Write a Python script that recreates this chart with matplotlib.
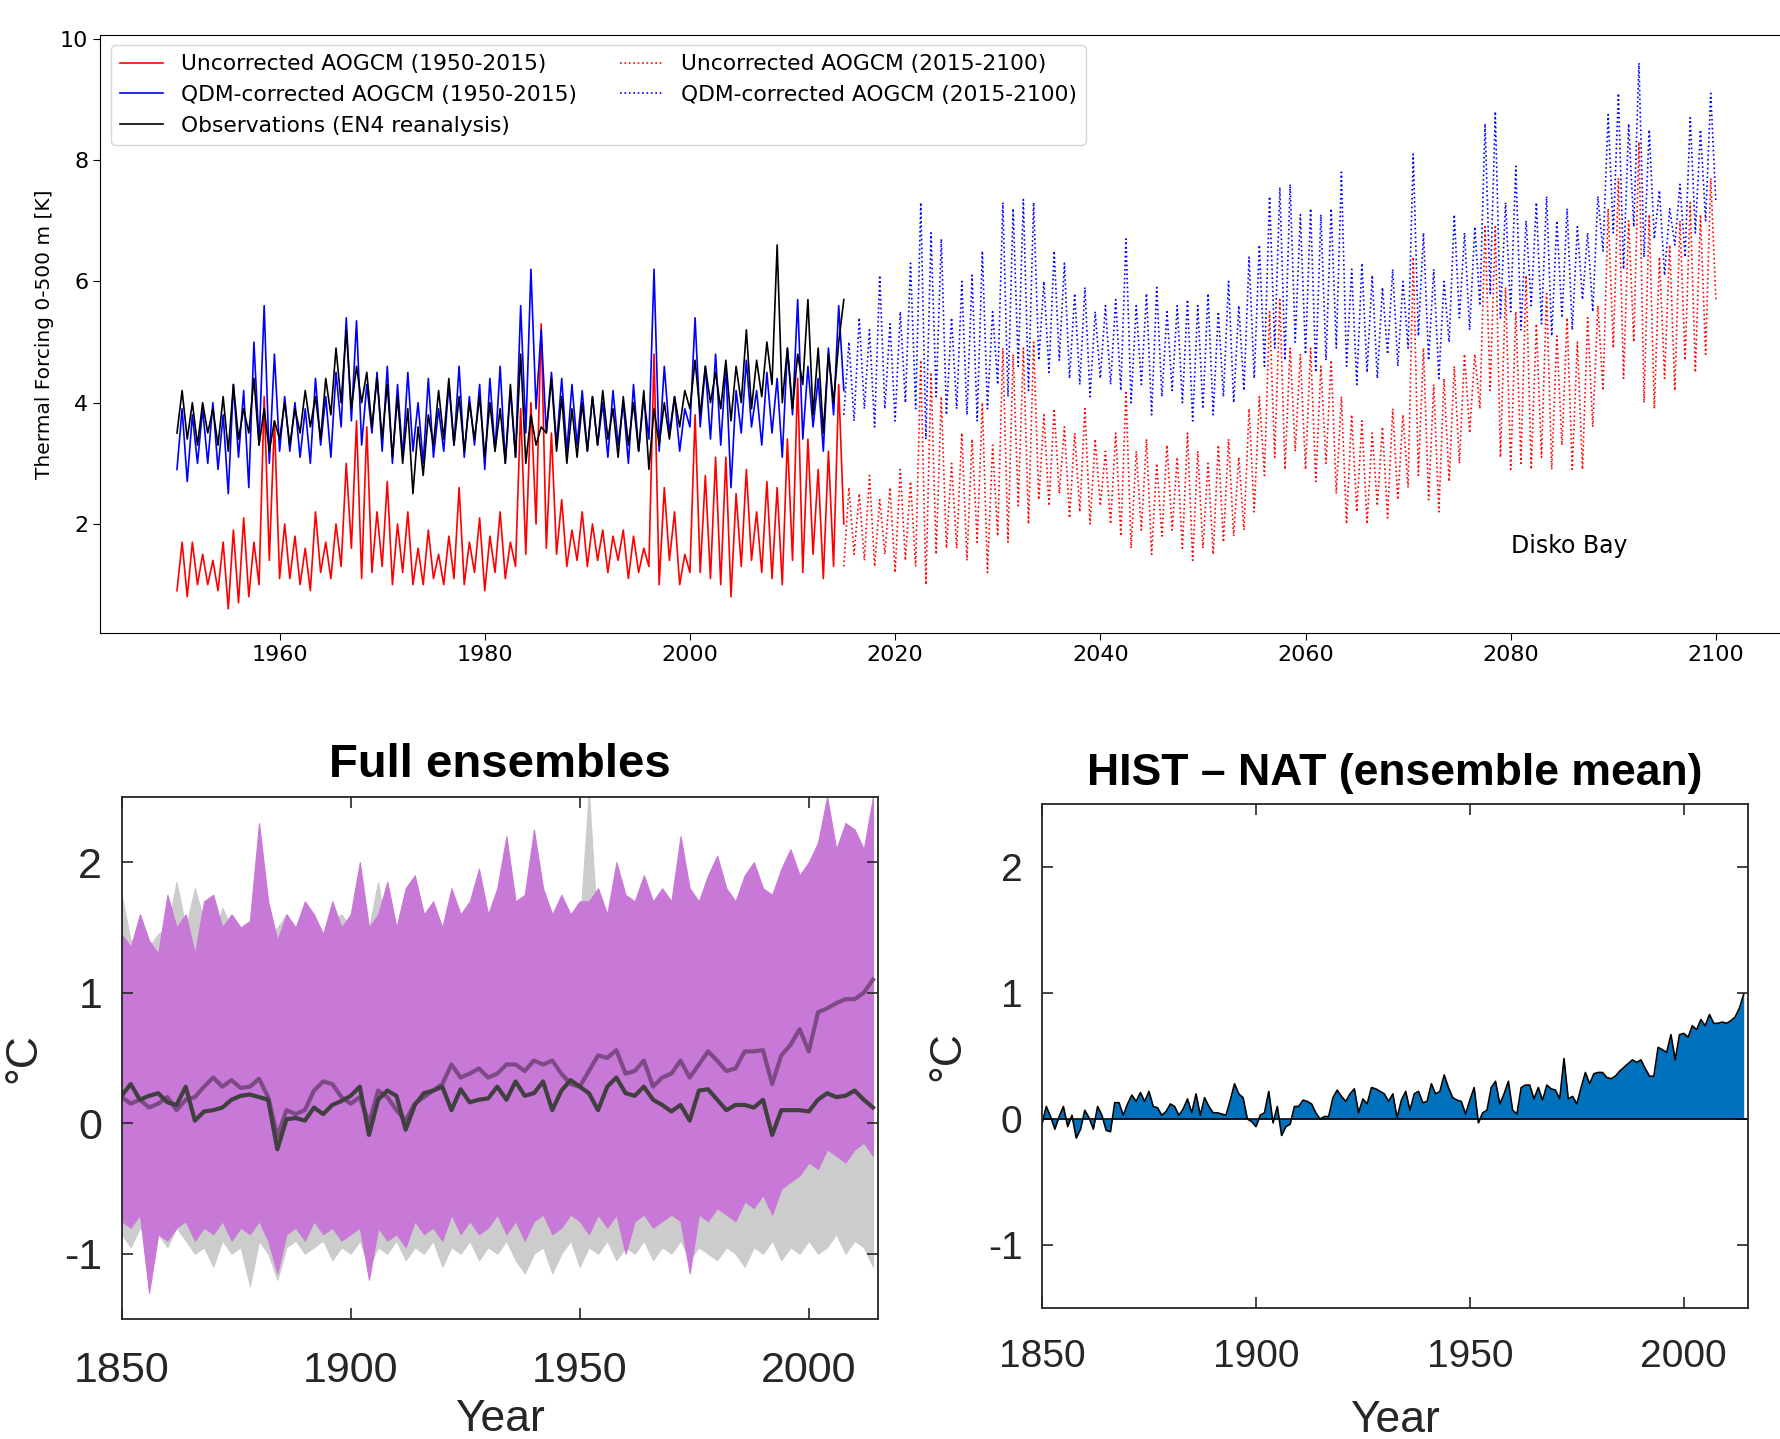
import matplotlib
matplotlib.use("Agg")
import matplotlib.pyplot as plt
import numpy as np

# ---------------- top panel: thermal forcing, Disko Bay ----------------
hist_t = np.arange(1950, 2015.01, 0.5)
fut_t = np.arange(2015, 2100.01, 0.5)

red_hist = [0.9, 1.7, 0.8, 1.7, 1.0, 1.5, 1.0, 1.4, 0.9, 1.7, 0.6, 1.9, 0.7, 2.1, 0.8, 1.7, 1.0, 4.1, 1.4, 3.7,
            1.1, 2.0, 1.1, 1.8, 1.0, 1.6, 0.9, 2.2, 1.2, 1.7, 1.1, 2.0, 1.3, 3.0, 1.6, 3.7, 1.1, 3.6, 1.2, 2.2,
            1.3, 2.7, 1.0, 2.0, 1.2, 2.2, 1.0, 1.6, 1.0, 1.9, 1.1, 1.5, 1.0, 1.8, 1.1, 2.6, 1.0, 1.7, 1.2, 2.1,
            0.9, 1.8, 1.2, 2.2, 1.1, 1.7, 1.3, 3.9, 1.5, 4.0, 2.0, 5.3, 1.6, 3.5, 1.5, 2.4, 1.3, 1.9, 1.4, 2.2,
            1.3, 2.0, 1.4, 1.9, 1.2, 1.8, 1.4, 1.9, 1.1, 1.8, 1.2, 1.6, 1.3, 4.8, 1.0, 2.6, 1.4, 2.2, 1.0, 1.5,
            1.2, 3.8, 1.2, 2.8, 1.1, 3.1, 1.0, 3.1, 0.8, 2.5, 1.3, 2.9, 1.4, 2.2, 1.2, 2.7, 1.1, 2.6, 1.0, 3.4,
            1.4, 4.4, 1.2, 3.4, 1.5, 2.9, 1.1, 3.2, 1.3, 4.3, 2.0]
blue_hist = [2.9, 3.9, 2.7, 3.8, 3.0, 3.9, 3.0, 4.0, 2.9, 3.8, 2.5, 4.3, 3.1, 4.2, 2.6, 5.0, 3.3, 5.6, 3.0, 4.8,
             3.2, 4.1, 3.2, 4.0, 3.1, 3.9, 3.0, 4.4, 3.3, 4.1, 3.1, 4.5, 3.6, 5.4, 3.7, 5.35, 3.3, 4.3, 3.5, 4.5,
             3.2, 4.6, 3.0, 4.3, 3.1, 4.5, 3.2, 4.0, 3.0, 4.4, 3.1, 3.9, 3.2, 4.3, 3.3, 4.6, 3.1, 4.1, 3.3, 4.3,
             2.9, 4.4, 3.2, 4.6, 3.0, 4.2, 3.1, 5.6, 3.5, 6.2, 3.9, 5.2, 3.5, 4.5, 3.3, 4.4, 3.2, 4.3, 3.3, 4.2,
             3.2, 4.1, 3.3, 4.0, 3.1, 4.2, 3.3, 4.0, 3.0, 4.3, 3.2, 4.1, 3.4, 6.2, 3.2, 4.6, 3.5, 4.1, 3.2, 3.9,
             3.6, 5.4, 3.6, 4.6, 3.4, 4.8, 3.3, 4.6, 2.6, 4.2, 3.5, 4.7, 3.6, 4.2, 3.3, 4.5, 3.5, 4.4, 3.1, 4.9,
             3.8, 5.7, 3.4, 4.6, 3.6, 4.4, 3.2, 4.9, 3.8, 5.6, 4.2]
obs_hist = [3.5, 4.2, 3.4, 4.0, 3.3, 4.0, 3.5, 3.9, 3.3, 4.1, 3.2, 4.3, 3.4, 3.9, 3.5, 4.4, 3.3, 3.9, 3.2, 3.7,
            3.4, 4.0, 3.3, 3.9, 3.5, 4.2, 3.6, 4.1, 3.4, 4.4, 3.8, 4.9, 4.0, 5.2, 3.9, 4.6, 4.0, 4.5, 3.6, 4.4,
            3.4, 4.3, 3.1, 4.1, 3.0, 3.9, 2.5, 3.6, 2.8, 3.8, 3.3, 4.2, 3.4, 4.4, 3.3, 4.1, 3.2, 4.0, 3.4, 4.1,
            3.1, 4.0, 3.2, 3.9, 3.0, 4.3, 3.1, 4.8, 3.0, 3.8, 3.3, 3.6, 3.5, 4.4, 3.2, 4.1, 3.0, 3.9, 3.1, 4.0,
            3.2, 4.1, 3.3, 4.2, 3.4, 3.9, 3.1, 4.1, 3.3, 4.0, 3.2, 4.2, 2.9, 3.9, 3.3, 4.0, 3.4, 4.1, 3.6, 4.2,
            3.9, 4.7, 3.8, 4.6, 4.0, 4.5, 3.9, 4.7, 3.7, 4.6, 4.0, 5.2, 3.9, 4.7, 4.1, 5.0, 4.3, 6.6, 4.0, 4.9,
            3.9, 4.8, 4.3, 5.7, 3.8, 4.9, 3.5, 4.8, 4.0, 5.0, 5.7]
red_fut = [1.3, 2.6, 1.5, 2.5, 1.4, 2.8, 1.3, 2.4, 1.5, 2.6, 1.2, 2.9, 1.4, 2.7, 1.3, 4.7, 1.0, 4.5, 1.5, 4.1,
           1.6, 3.0, 1.6, 3.5, 1.4, 3.4, 1.7, 4.0, 1.2, 3.3, 1.8, 4.9, 1.7, 4.8, 2.3, 4.9, 2.0, 5.0, 2.4, 3.8,
           2.3, 3.9, 2.5, 3.6, 2.1, 3.5, 2.2, 3.9, 2.0, 3.4, 2.3, 3.2, 2.0, 3.5, 1.8, 4.2, 1.6, 3.2, 1.9, 3.4,
           1.5, 3.0, 1.8, 3.3, 1.9, 3.1, 1.6, 3.5, 1.4, 3.2, 1.6, 3.0, 1.5, 3.3, 1.7, 3.4, 1.8, 3.1, 1.9, 3.9,
           2.2, 4.1, 2.8, 5.5, 3.1, 5.7, 2.9, 4.9, 3.2, 4.8, 2.9, 4.9, 2.7, 4.6, 3.0, 4.7, 2.5, 4.1, 2.0, 3.8,
           2.2, 3.7, 2.0, 3.5, 2.3, 3.6, 2.1, 3.9, 2.4, 3.8, 2.6, 6.4, 2.8, 4.9, 2.4, 4.3, 2.2, 4.4, 2.7, 4.6,
           3.0, 4.8, 3.5, 4.8, 3.9, 6.9, 4.2, 6.9, 3.1, 5.9, 2.9, 5.5, 3.0, 6.1, 2.9, 5.3, 3.1, 5.8, 2.9, 5.1,
           3.3, 5.4, 2.9, 5.0, 2.9, 5.4, 3.6, 5.6, 4.2, 7.2, 4.9, 7.7, 4.4, 7.0, 5.0, 8.3, 4.0, 7.1, 3.9, 6.4,
           4.4, 6.6, 4.2, 7.0, 4.7, 7.3, 4.5, 7.1, 4.8, 7.7, 5.7]
blue_fut = [3.8, 5.0, 3.7, 5.4, 3.9, 5.2, 3.6, 6.1, 3.9, 5.3, 3.7, 5.5, 4.0, 6.3, 3.9, 7.3, 3.4, 6.8, 4.1, 6.7,
            3.8, 5.4, 3.9, 6.0, 3.8, 6.1, 3.7, 6.5, 3.9, 5.5, 4.3, 7.3, 4.1, 7.2, 4.6, 7.35, 4.2, 7.3, 4.7, 6.0,
            4.5, 6.5, 4.7, 6.3, 4.4, 5.8, 4.3, 5.9, 4.1, 5.5, 4.4, 5.6, 4.3, 5.7, 4.2, 6.7, 4.0, 5.6, 4.3, 5.8,
            3.8, 5.9, 4.1, 5.5, 4.2, 5.6, 4.0, 5.7, 3.7, 5.6, 3.9, 5.8, 3.8, 5.5, 4.1, 6.0, 4.0, 5.6, 4.2, 6.4,
            4.4, 6.6, 4.6, 7.4, 4.9, 7.55, 4.7, 7.6, 5.0, 7.1, 4.8, 7.2, 4.5, 7.1, 4.7, 7.2, 4.9, 7.8, 4.6, 6.2,
            4.3, 6.3, 4.5, 6.1, 4.4, 5.9, 4.8, 6.2, 4.6, 6.0, 4.9, 8.1, 5.1, 6.8, 4.7, 6.2, 4.4, 6.0, 5.0, 7.1,
            5.4, 6.8, 5.2, 6.9, 5.6, 8.6, 5.8, 8.8, 5.4, 7.3, 5.5, 7.9, 5.2, 7.0, 5.6, 7.3, 5.3, 7.4, 5.1, 7.0,
            5.4, 7.2, 5.2, 6.9, 5.7, 6.8, 5.5, 7.4, 6.5, 8.75, 6.8, 9.1, 6.2, 8.6, 6.9, 9.6, 6.4, 8.5, 6.7, 7.5,
            6.1, 7.2, 6.6, 7.6, 6.4, 8.7, 6.8, 8.5, 7.0, 9.1, 7.3]

# ---------------- bottom panels: ensembles (two-yearly) ----------------
ens_t = np.arange(1850, 2015, 2)
hist_max = [1.45, 1.35, 1.6, 1.4, 1.3, 1.75, 1.5, 1.6, 1.3, 1.7, 1.75, 1.5, 1.6, 1.5, 1.55, 2.3, 1.7, 1.4, 1.6, 1.5,
            1.7, 1.6, 1.45, 1.7, 1.5, 1.6, 2.0, 1.5, 1.6, 1.85, 1.5, 1.8, 1.9, 1.6, 1.7, 1.5, 1.8, 1.6, 1.7, 1.95,
            1.6, 1.8, 2.2, 1.7, 1.75, 2.25, 1.8, 1.6, 1.75, 1.6, 1.7, 1.7, 1.8, 1.6, 2.0, 1.75, 1.7, 1.9, 1.7, 1.8,
            1.7, 2.2, 1.8, 1.7, 1.9, 2.05, 1.8, 1.7, 1.9, 2.0, 1.8, 1.75, 1.95, 2.1, 1.9, 2.0, 2.15, 2.5, 2.1, 2.3,
            2.25, 2.1, 2.5]
hist_min = [-0.75, -0.8, -0.7, -1.3, -0.85, -0.9, -0.8, -0.75, -0.9, -0.8, -0.85, -0.75, -0.9, -0.8, -0.85,
            -0.75, -0.9, -1.15, -0.85, -0.8, -0.9, -0.75, -0.85, -0.8, -0.9, -0.85, -0.8, -1.2, -0.8, -0.9,
            -0.85, -0.95, -0.75, -0.85, -0.8, -0.9, -0.7, -0.85, -0.75, -0.85, -0.8, -0.7, -0.85, -0.75, -0.9,
            -0.75, -0.7, -0.85, -0.8, -0.7, -0.75, -0.85, -0.7, -0.8, -0.7, -1.0, -0.75, -0.7, -0.8, -0.75,
            -0.7, -0.75, -1.15, -0.7, -0.75, -0.65, -0.7, -0.75, -0.6, -0.65, -0.55, -0.7, -0.5, -0.45, -0.4,
            -0.3, -0.35, -0.2, -0.25, -0.3, -0.2, -0.15, -0.25]
nat_max = [1.75, 1.4, 1.4, 1.35, 1.45, 1.5, 1.85, 1.5, 1.8, 1.55, 1.4, 1.65, 1.5, 1.45, 1.4, 1.7, 1.4, 1.5, 1.6, 1.45,
           1.5, 1.4, 1.45, 1.55, 1.6, 1.5, 1.45, 1.5, 1.85, 1.4, 1.5, 1.45, 1.4, 1.5, 1.45, 1.4, 1.5, 1.55, 1.5, 1.4,
           1.45, 1.5, 1.4, 1.45, 1.5, 1.45, 1.4, 1.5, 1.45, 1.4, 1.5, 2.55, 1.4, 1.5, 1.45, 1.4, 1.5, 1.45, 1.4, 1.35,
           1.4, 1.45, 1.35, 1.4, 1.3, 1.35, 1.4, 1.3, 1.35, 1.3, 1.3, 1.2, 1.3, 1.25, 1.2, 1.3, 1.2, 1.25, 1.2, 1.3,
           1.25, 1.2, 1.3]
nat_min = [-0.85, -0.95, -0.8, -0.9, -0.85, -0.95, -0.8, -0.9, -1.0, -0.95, -1.1, -0.9, -1.0, -0.95, -1.25,
           -0.9, -1.0, -1.2, -0.95, -0.9, -1.0, -0.95, -0.9, -1.05, -0.95, -1.0, -0.9, -1.1, -0.95, -1.0,
           -0.9, -1.05, -0.95, -1.0, -0.9, -1.1, -0.95, -1.0, -0.9, -1.05, -0.95, -1.0, -0.9, -1.05, -1.15,
           -1.0, -0.95, -1.15, -1.0, -0.9, -1.1, -0.95, -1.0, -0.9, -1.05, -0.95, -1.0, -0.9, -1.05, -0.95,
           -1.0, -0.9, -1.05, -0.95, -1.0, -1.05, -0.95, -1.0, -1.1, -0.95, -1.0, -0.9, -1.05, -0.95, -1.0,
           -0.9, -1.0, -0.95, -0.85, -1.0, -0.9, -0.95, -1.1]
hist_mean = [0.2, 0.15, 0.18, 0.12, 0.15, 0.2, 0.1, 0.18, 0.2, 0.28, 0.35, 0.28, 0.33, 0.27, 0.28, 0.34, 0.2, -0.1,
             0.1, 0.07, 0.1, 0.25, 0.32, 0.3, 0.2, 0.15, 0.2, 0.0, 0.25, 0.2, 0.1, 0.02, 0.15, 0.2, 0.25, 0.3,
             0.45, 0.35, 0.38, 0.42, 0.35, 0.38, 0.45, 0.45, 0.4, 0.48, 0.45, 0.48, 0.38, 0.3, 0.28, 0.4, 0.52,
             0.5, 0.56, 0.38, 0.4, 0.48, 0.28, 0.35, 0.38, 0.48, 0.35, 0.45, 0.55, 0.48, 0.4, 0.42, 0.55, 0.55,
             0.56, 0.3, 0.52, 0.6, 0.72, 0.55, 0.85, 0.88, 0.92, 0.95, 0.95, 1.0, 1.1]
nat_mean = [0.21, 0.30, 0.18, 0.21, 0.23, 0.16, 0.14, 0.28, 0.02, 0.09, 0.10, 0.12, 0.18, 0.21, 0.22, 0.20, 0.18,
            -0.20, 0.03, 0.04, 0.02, 0.12, 0.07, 0.14, 0.17, 0.21, 0.28, -0.09, 0.18, 0.25, 0.21, -0.05, 0.14,
            0.23, 0.25, 0.28, 0.10, 0.26, 0.16, 0.18, 0.19, 0.28, 0.18, 0.32, 0.21, 0.23, 0.32, 0.10, 0.25,
            0.33, 0.28, 0.23, 0.10, 0.28, 0.35, 0.23, 0.21, 0.28, 0.18, 0.14, 0.09, 0.14, 0.02, 0.25, 0.26,
            0.18, 0.10, 0.14, 0.14, 0.12, 0.18, -0.09, 0.10, 0.10, 0.10, 0.09, 0.18, 0.23, 0.20, 0.21, 0.25,
            0.18, 0.12]

# HIST - NAT ensemble mean, yearly
diff_t = np.arange(1850, 2015)
diff = [-0.04, 0.10, 0.02, -0.08, 0.02, 0.10, -0.06, 0.03, -0.15, -0.08,
        0.07, 0.01, -0.08, 0.10, 0.03, -0.09, -0.10, 0.13, 0.13, 0.03,
        0.12, 0.19, 0.14, 0.21, 0.14, 0.22, 0.10, 0.09, 0.03, 0.06,
        0.12, 0.10, 0.03, 0.08, 0.16, 0.05, 0.20, 0.03, 0.17, 0.10,
        0.05, 0.05, 0.04, 0.03, 0.15, 0.28, 0.20, 0.17, 0.00, -0.02,
        -0.06, 0.03, 0.05, 0.22, -0.03, 0.10, -0.13, -0.06, -0.04, 0.10,
        0.10, 0.15, 0.14, 0.12, 0.05, 0.00, 0.02, 0.02, 0.17, 0.23,
        0.18, 0.14, 0.20, 0.24, 0.05, 0.16, 0.12, 0.25, 0.24, 0.22,
        0.20, 0.14, 0.20, 0.01, 0.15, 0.22, 0.07, 0.20, 0.22, 0.13,
        0.14, 0.28, 0.20, 0.22, 0.35, 0.25, 0.17, 0.15, 0.14, 0.04,
        0.15, 0.25, -0.03, 0.05, 0.07, 0.25, 0.30, 0.12, 0.20, 0.30,
        0.07, 0.04, 0.25, 0.27, 0.27, 0.16, 0.25, 0.15, 0.27, 0.24,
        0.23, 0.16, 0.48, 0.16, 0.18, 0.12, 0.25, 0.37, 0.28, 0.36,
        0.37, 0.37, 0.33, 0.32, 0.34, 0.38, 0.41, 0.44, 0.47, 0.45,
        0.47, 0.40, 0.34, 0.34, 0.57, 0.55, 0.53, 0.67, 0.47, 0.67,
        0.68, 0.65, 0.74, 0.71, 0.79, 0.74, 0.83, 0.76, 0.76, 0.77,
        0.76, 0.78, 0.81, 0.88, 0.99]

fig = plt.figure(figsize=(17.8, 14.39), dpi=100)

# top panel
ax = fig.add_axes([0.0562, 0.560, 0.951, 0.416])
ax.plot(hist_t, red_hist, color="red", lw=1.2, label="Uncorrected AOGCM (1950-2015)")
ax.plot(hist_t, blue_hist, color="blue", lw=1.2, label="QDM-corrected AOGCM (1950-2015)")
ax.plot(hist_t, obs_hist, color="black", lw=1.2, label="Observations (EN4 reanalysis)")
ax.plot(fut_t, red_fut, color="red", lw=1.2, ls=":", label="Uncorrected AOGCM (2015-2100)")
ax.plot(fut_t, blue_fut, color="blue", lw=1.2, ls=":", label="QDM-corrected AOGCM (2015-2100)")
ax.set_xlim(1942.5, 2107.5)
ax.set_ylim(0.2, 10.07)
ax.set_xticks([1960, 1980, 2000, 2020, 2040, 2060, 2080, 2100])
ax.set_yticks([2, 4, 6, 8, 10])
ax.tick_params(labelsize=16, length=5)
ax.set_ylabel("Thermal Forcing 0-500 m [K]", fontsize=14.5)
ax.text(2080, 1.64, "Disko Bay", fontsize=17, va="center")
ax.legend(ncol=2, loc="upper left", fontsize=15.7)

# bottom panels, MATLAB look
mfont = "Liberation Sans"
box_c = "#262626"


def matlab_axes(a, fs, tpad, lpad):
    a.set_xlim(1850, 2015)
    a.set_ylim(-1.5, 2.5)
    a.set_xticks([1850, 1900, 1950, 2000])
    a.set_yticks([-1, 0, 1, 2])
    a.set_yticklabels(["-1", "0", "1", "2"])
    a.tick_params(direction="in", length=8, width=1.2, top=True, right=True,
                  labelsize=fs, color=box_c, labelcolor=box_c, pad=tpad)
    for lab in a.get_xticklabels() + a.get_yticklabels():
        lab.set_fontfamily(mfont)
    a.tick_params(axis="y", pad=14)
    for s in a.spines.values():
        s.set_color(box_c)
        s.set_linewidth(1.3)
    a.set_xlabel("Year", fontsize=32, family=mfont, color=box_c, labelpad=lpad)
    a.set_ylabel("°C", fontsize=32, family=mfont, color=box_c, labelpad=14)


ax1 = fig.add_axes([0.0683, 0.0834, 0.4247, 0.3628])
ax1.fill_between(ens_t, nat_min, nat_max, color="#CCCCCC", lw=0.8)
ax1.fill_between(ens_t, hist_min, hist_max, color="#C878D7", lw=0.8)
ax1.plot(ens_t, hist_mean, color="#7E4A86", lw=3)
ax1.plot(ens_t, nat_mean, color="#404040", lw=3)
matlab_axes(ax1, 31, 23, 6)
ax1.set_title("Full ensembles", fontsize=34, fontweight="bold", family=mfont, pad=14)

ax2 = fig.add_axes([0.5854, 0.0910, 0.3966, 0.3502])
ax2.fill_between(diff_t, diff, 0, color="#0072BD", lw=0)
ax2.plot(diff_t, diff, color="black", lw=1.2)
ax2.axhline(0, color="black", lw=1.2)
matlab_axes(ax2, 28, 22, 18)
ax2.set_title("HIST – NAT (ensemble mean)", fontsize=32, fontweight="bold", family=mfont, pad=14)

fig.savefig("out.png", dpi=100)
